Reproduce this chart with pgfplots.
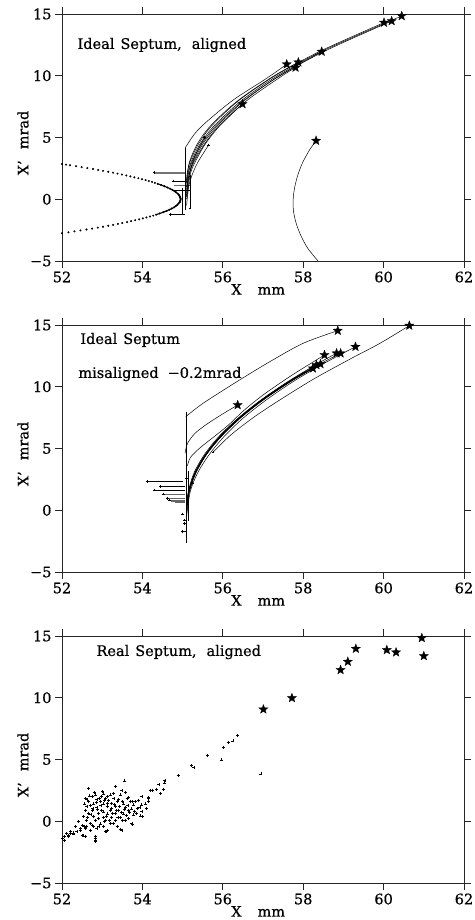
\documentclass[border=0pt]{standalone}
\usepackage{fontspec}
\setmainfont{DejaVu Serif}[FakeBold=0.6]
\usepackage{pgfplots}
\pgfplotsset{compat=1.18}

% filled five-pointed star
\pgfdeclareplotmark{fstar}{%
  \pgfpathmoveto{\pgfpointpolar{90}{\pgfplotmarksize}}%
  \pgfpathlineto{\pgfpointpolar{126}{0.42\pgfplotmarksize}}%
  \pgfpathlineto{\pgfpointpolar{162}{\pgfplotmarksize}}%
  \pgfpathlineto{\pgfpointpolar{198}{0.42\pgfplotmarksize}}%
  \pgfpathlineto{\pgfpointpolar{234}{\pgfplotmarksize}}%
  \pgfpathlineto{\pgfpointpolar{270}{0.42\pgfplotmarksize}}%
  \pgfpathlineto{\pgfpointpolar{306}{\pgfplotmarksize}}%
  \pgfpathlineto{\pgfpointpolar{342}{0.42\pgfplotmarksize}}%
  \pgfpathlineto{\pgfpointpolar{18}{\pgfplotmarksize}}%
  \pgfpathlineto{\pgfpointpolar{54}{0.42\pgfplotmarksize}}%
  \pgfpathclose
  \pgfusepathqfillstroke
}

\newcommand\tickfont{\fontsize{14.5}{16}\selectfont}
\newcommand\lblfont{\fontsize{14.5}{16}\selectfont}

\pgfplotsset{
  panel/.style={
    scale only axis, width=402pt, height=247pt, anchor=south west,
    xmin=52, xmax=62, ymin=-5, ymax=15, clip=false,
    xtick={52,54,56,58,60,62}, xticklabels={52,54,56,58,60,62},
    ytick={-5,0,5,10,15}, yticklabels={−5,0,5,10,15},
    tick align=outside, tick pos=both, major tick length=7pt,
    axis line style={line width=0.9pt, black!85},
    every tick/.style={line width=0.9pt, black!85},
    tick label style={font=\tickfont},
    /pgf/number format/assume math mode=true,
    xlabel={X\hspace{16pt}mm}, ylabel={X’\hspace{11pt}mrad},
    label style={font=\lblfont},
    xlabel style={at={(axis description cs:0.488,-0.115)}, anchor=center},
    ylabel style={at={(axis description cs:-0.097,0.478)}, anchor=center},
  },
  traj/.style={black, line width=0.5pt, smooth, no markers},
  seg/.style={black, line width=0.5pt, no markers},
  stars/.style={only marks, mark=fstar, mark size=4.8pt,
    mark options={fill=black, draw=black, line width=0.3pt}},
  ends/.style={only marks, mark=+, mark size=1.3pt, black,
    mark options={line width=0.5pt}},
}

\begin{document}
\begin{tikzpicture}

%% ---------------- top: ideal septum, aligned ----------------
\begin{axis}[panel, at={(62pt,659pt)}]
\node[anchor=west, font=\lblfont] at (axis cs:52.3,12.49)
  {Ideal\hspace{6pt}Septum,\hspace{10pt}aligned};
% dotted branch left of the septum
\addplot[only marks, mark=*, mark size=0.8pt, black] coordinates {
 (54.95,0.05) (54.94,0.15) (54.93,0.25) (54.91,0.35) (54.88,0.45) (54.84,0.55)
 (54.80,0.65) (54.75,0.75) (54.69,0.85) (54.62,0.95) (54.55,1.05) (54.47,1.15)
 (54.38,1.25) (54.31,1.325) (54.24,1.40) (54.16,1.475) (54.08,1.55) (53.99,1.625)
 (53.90,1.70) (53.80,1.775) (53.70,1.85) (53.60,1.925) (53.49,2.00) (53.38,2.075)
 (53.27,2.15) (53.15,2.225) (53.02,2.30) (52.90,2.375) (52.77,2.45) (52.63,2.525)
 (52.49,2.60) (52.35,2.675) (52.20,2.75) (52.10,2.80) (52.00,2.85)
 (54.95,-0.05) (54.94,-0.15) (54.93,-0.25) (54.90,-0.35) (54.87,-0.45) (54.83,-0.55)
 (54.79,-0.65) (54.73,-0.75) (54.67,-0.85) (54.60,-0.95) (54.52,-1.05) (54.43,-1.15)
 (54.34,-1.25) (54.27,-1.325) (54.19,-1.40) (54.10,-1.475) (54.01,-1.55) (53.92,-1.625)
 (53.82,-1.70) (53.72,-1.775) (53.62,-1.85) (53.50,-1.925) (53.39,-2.00) (53.27,-2.075)
 (53.15,-2.15) (53.02,-2.225) (52.89,-2.30) (52.75,-2.375) (52.61,-2.45) (52.46,-2.525)
 (52.31,-2.60) (52.16,-2.675) (52.00,-2.75)
};
\addplot[traj, line width=1.1pt] coordinates {
 (54.38,1.25) (54.55,1.05) (54.69,0.85) (54.80,0.65) (54.88,0.45) (54.95,0.0)
 (54.87,-0.45) (54.79,-0.65) (54.67,-0.85) (54.52,-1.05) (54.34,-1.25)
};
% entry segments
\addplot[seg, black!55, line width=0.8pt] coordinates {(54.29,2.18) (55.06,2.18)};
\addplot[seg, black!55, line width=0.8pt] coordinates {(54.32,2.08) (55.06,2.08)};
\addplot[seg] coordinates {(54.76,1.48) (55.10,1.48)};
\addplot[seg, black!60] coordinates {(54.78,1.15) (55.18,1.15)};
\addplot[seg] coordinates {(54.80,0.75) (55.18,0.75)};
\addplot[seg] coordinates {(54.70,-1.22) (55.06,-1.22)};
\addplot[seg] coordinates {(54.98,-1.22) (54.98,0.90)};
\addplot[seg] coordinates {(55.18,-0.70) (55.18,1.83)};
\addplot[seg] coordinates {(55.06,-0.87) (55.06,4.13)};
% extracted trajectories
\addplot[traj] coordinates {(55.10,1.0) (55.13,2) (55.21,3) (55.44,4.5) (55.80,6) (56.47,8) (57.36,10) (58.48,12) (60.45,14.84)};
\addplot[traj] coordinates {(55.10,0.8) (55.14,2) (55.23,3) (55.48,4.5) (55.84,6) (56.52,8) (57.42,10) (58.54,12) (60.20,14.43)};
\addplot[traj] coordinates {(55.10,1.3) (55.11,2) (55.18,3) (55.40,4.5) (55.74,6) (56.40,8) (57.30,10) (58.43,12) (60.01,14.30)};
\addplot[traj] coordinates {(55.10,0.5) (55.16,2) (55.26,3) (55.51,4.5) (55.88,6) (56.54,8) (57.41,10) (58.46,11.95)};
\addplot[traj] coordinates {(55.10,1.5) (55.17,3) (55.37,4.5) (55.71,6) (56.38,8) (57.28,10) (57.88,11.09)};
\addplot[traj] coordinates {(55.06,4.13) (55.30,5.30) (55.60,6.28) (56.26,8.04) (57.09,9.79) (57.59,10.93)};
\addplot[traj] coordinates {(55.10,0.3) (55.17,2) (55.28,3) (55.55,4.5) (55.92,6) (56.60,8) (57.48,10) (57.81,10.66)};
\addplot[traj] coordinates {(55.10,0.0) (55.19,2) (55.31,3) (55.57,4.5) (55.94,6) (56.49,7.71)};
\addplot[traj] coordinates {(55.10,-0.5) (55.15,1) (55.24,2) (55.38,3) (55.65,4.4)};
\addplot[traj] coordinates {(55.10,0.2) (55.13,1.5) (55.25,3) (55.38,4) (55.55,5.0)};
\addplot[traj] coordinates {(58.32,4.74) (58.16,4) (57.99,3) (57.87,2) (57.79,1) (57.75,0) (57.76,-1) (57.83,-2) (57.95,-3) (58.12,-4) (58.37,-5)};
\addplot[ends] coordinates {(54.29,2.18) (54.76,1.48) (55.65,4.4) (55.55,5.0) (54.70,-1.22) (55.18,-0.70) (55.18,1.83)};
\addplot[stars] coordinates {
 (60.45,14.84) (60.20,14.43) (60.01,14.30) (58.46,11.95) (57.88,11.09)
 (57.59,10.93) (57.81,10.66) (56.49,7.71) (58.32,4.74)};
\end{axis}

%% ---------------- middle: ideal septum, misaligned ----------------
\begin{axis}[panel, at={(62pt,348pt)}]
\node[anchor=west, font=\lblfont] at (axis cs:52.37,13.79)
  {Ideal\hspace{6pt}Septum};
\node[anchor=west, font=\lblfont] at (axis cs:52.32,11.03)
  {misaligned\hspace{9pt}−0.2mrad};
% entry segments
\addplot[seg] coordinates {(54.11,2.31) (55.00,2.31)};
\addplot[seg] coordinates {(54.44,1.91) (55.05,1.91)};
\addplot[seg] coordinates {(54.29,1.64) (55.05,1.64)};
\addplot[seg, black!60] coordinates {(54.52,1.32) (55.05,1.32)};
\addplot[seg, black!60, line width=0.8pt] coordinates {(54.62,0.97) (55.05,0.97)};
\addplot[seg, black!60, line width=0.8pt] coordinates {(54.68,0.83) (55.05,0.83)};
\addplot[seg, black!60, line width=0.8pt] coordinates {(54.72,0.70) (55.05,0.70)};
\addplot[seg, black!60, line width=0.8pt] coordinates {(54.80,0.60) (55.05,0.60)};
\addplot[seg] coordinates {(55.00,-1.73) (55.10,-1.73)};
\addplot[seg] coordinates {(55.08,-2.63) (55.08,7.98)};
\addplot[seg] coordinates {(55.13,-0.9) (55.13,3.2)};
% trajectories
\addplot[traj] coordinates {(55.08,7.58) (55.51,8.66) (56.35,10.41) (57.17,12.03) (58.00,13.52) (58.86,14.54)};
\addplot[traj] coordinates {(55.06,4.60) (55.12,5.40) (55.30,6.20) (55.55,6.85) (55.85,7.50) (56.10,8.00) (56.37,8.52)};
\addplot[traj] coordinates {(55.12,3.60) (55.20,4.30) (55.45,5.10) (55.80,6.00) (56.14,6.90) (56.53,8.10) (57.03,9.40) (57.75,11.00) (58.53,12.57)};
\addplot[traj] coordinates {(55.76,4.70) (56.20,6.10) (56.80,7.60) (57.50,9.10) (58.30,10.70) (59.20,12.30) (59.90,13.50) (60.64,14.95)};
\addplot[traj] coordinates {(55.10,0.0) (55.15,1.5) (55.31,3) (55.58,4.5) (55.96,6) (56.44,7.5) (57.03,9) (57.72,10.5) (58.24,11.49)};
\addplot[traj] coordinates {(55.10,0.1) (55.15,1.5) (55.30,3) (55.56,4.5) (55.93,6) (56.40,7.5) (56.98,9) (57.67,10.5) (58.33,11.76)};
\addplot[traj] coordinates {(55.10,0.3) (55.14,1.5) (55.28,3) (55.54,4.5) (55.91,6) (56.40,7.5) (56.99,9) (57.70,10.5) (58.43,11.84)};
\addplot[traj] coordinates {(55.10,-0.2) (55.17,1.5) (55.33,3) (55.59,4.5) (55.96,6) (56.43,7.5) (56.99,9) (57.66,10.5) (58.43,12) (58.83,12.71)};
\addplot[traj] coordinates {(55.10,0.0) (55.15,1.5) (55.31,3) (55.58,4.5) (55.95,6) (56.43,7.5) (57.02,9) (57.71,10.5) (58.51,12) (58.93,12.71)};
\addplot[traj] coordinates {(55.10,-0.5) (55.19,1.5) (55.37,3) (55.66,4.5) (56.04,6) (56.52,7.5) (57.11,9) (57.79,10.5) (58.58,12) (59.30,13.24)};
\addplot[traj] coordinates {(55.10,-0.1) (55.16,1.5) (55.32,3) (55.59,4.5) (55.97,6) (56.45,7.5) (57.04,9) (57.73,10.5) (58.30,11.60)};
\addplot[traj, line width=1.2pt] coordinates {(55.12,0.5) (55.16,1.5) (55.31,3) (55.58,4.5) (55.95,6) (56.43,7.5) (57.01,9) (57.70,10.5) (58.25,11.5)};
\addplot[ends] coordinates {
 (54.11,2.31) (54.44,1.91) (54.29,1.64) (54.52,1.32) (54.62,0.97) (54.68,0.83)
 (55.00,-1.73) (55.76,4.70) (55.00,-0.30) (55.05,-0.80) (55.05,-1.05) (55.10,2.60) (55.25,2.20)};
\addplot[stars] coordinates {
 (60.64,14.95) (58.86,14.54) (59.30,13.24) (58.93,12.71) (58.83,12.71)
 (58.53,12.57) (58.43,11.84) (58.33,11.76) (58.24,11.49) (56.37,8.52)};
\end{axis}

%% ---------------- bottom: real septum, aligned ----------------
\begin{axis}[panel, at={(62pt,37pt)}]
\node[anchor=west, font=\lblfont] at (axis cs:52.77,13.70)
  {Real\hspace{6pt}Septum,\hspace{10pt}aligned};
\addplot[ends, mark size=1.5pt, mark options={line width=0.7pt}] coordinates {
 (53.56,3.26) (53.33,2.85) (52.65,2.67) (53.49,2.48) (54.20,2.53) (53.04,2.21)
 (52.83,2.13) (53.20,2.13) (53.45,2.13) (52.75,1.99) (52.99,1.99) (53.99,1.99)
 (52.58,1.86) (52.87,1.77) (53.08,1.86) (53.29,1.86) (53.62,1.86) (54.16,1.86)
 (52.66,1.59) (52.95,1.59) (53.16,1.67) (53.37,1.59) (53.70,1.59) (53.91,1.67)
 (52.56,1.40) (52.79,1.40) (53.04,1.40) (53.24,1.45) (53.53,1.40) (53.78,1.32)
 (54.07,1.40) (52.62,1.18) (52.87,1.13) (53.12,1.18) (53.33,1.18) (53.58,1.13)
 (53.87,1.05) (54.11,1.05) (52.58,0.91) (52.75,0.86) (52.99,0.91) (53.20,0.86)
 (53.41,0.91) (53.66,0.86) (53.99,0.78) (52.66,0.64) (52.91,0.64) (53.12,0.59)
 (53.33,0.64) (53.53,0.59) (53.78,0.51) (53.95,0.43) (52.54,0.37) (52.79,0.37)
 (53.04,0.32) (53.24,0.32) (53.45,0.32) (53.66,0.24) (52.60,0.10) (52.83,0.05)
 (53.08,0.05) (53.33,0.10) (53.58,0.05) (52.41,-0.04) (52.70,-0.17) (52.95,-0.22)
 (53.20,-0.17) (53.74,-0.17) (53.99,0.37) (52.50,-0.31) (52.79,-0.44) (53.04,-0.44)
 (53.37,-0.44) (52.33,-0.44) (52.58,-0.58) (52.87,-0.58) (53.12,-0.71) (53.49,-0.71)
 (52.21,-0.85) (52.46,-0.71) (52.70,-0.71) (52.12,-0.98) (52.29,-1.03) (52.07,-1.25)
 (52.17,-1.12) (52.00,-1.39) (52.50,-1.12) (52.58,-1.25) (52.83,-1.39) (52.83,-1.66)
 (53.08,-0.85)
 (52.62,1.75) (52.70,1.30) (52.77,1.05) (52.85,1.55) (52.90,0.20) (52.97,1.25)
 (53.02,0.75) (53.06,1.70) (53.10,0.40) (53.14,1.45) (53.18,0.10) (53.22,1.05)
 (53.26,0.60) (53.30,1.35) (53.35,0.85) (53.39,0.30) (53.43,1.20) (53.47,0.70)
 (53.51,1.60) (53.55,0.95) (53.60,0.45) (53.64,1.25) (53.68,0.70) (53.72,1.00)
 (53.80,0.80) (53.85,0.60) (52.64,0.30) (52.68,2.05) (52.72,0.55) (52.80,2.30)
 (52.88,0.95) (52.93,1.85) (53.00,2.40) (53.13,2.00) (53.27,2.25) (53.40,1.75)
 (53.58,2.30) (53.65,1.95) (52.60,-0.45) (52.76,-0.35) (52.92,-0.40) (53.05,0.00)
 (53.28,-0.15) (53.50,0.05) (53.76,-0.25) (54.00,0.37) (53.45,-0.63) (52.84,-1.52)
 (52.84,-1.25) (53.11,-0.85) (52.52,-1.15) (52.07,-1.52) (52.16,-1.25) (52.20,-0.98)
 (52.29,-0.95) (52.37,-0.85) (52.45,-0.60) (52.55,-0.40) (53.82,1.58) (53.75,1.60)
 (53.94,1.13) (53.98,1.32) (54.14,1.58) (54.16,1.91) (54.45,2.26) (54.52,2.59)
 (54.25,2.48) (54.35,2.59) (54.41,2.96) (54.54,3.10) (54.56,3.28) (54.89,3.69)
 (55.21,4.55) (55.28,4.37) (55.62,5.31) (55.96,4.96) (56.01,6.00) (56.14,6.35)
 (56.25,6.50) (56.36,6.96) (56.95,3.83)
};
\addplot[stars] coordinates {
 (57.01,9.06) (57.72,9.98) (58.93,12.25) (59.11,12.92) (59.31,13.97)
 (60.08,13.87) (60.31,13.68) (60.95,14.84) (61.00,13.38)};
\end{axis}

\pgfresetboundingbox
\path (0pt,0pt) rectangle (474pt,920pt);
\end{tikzpicture}
\end{document}
